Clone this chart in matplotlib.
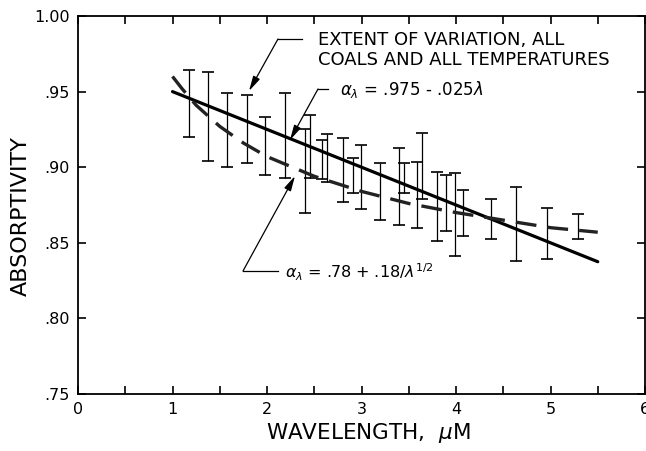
import matplotlib
matplotlib.use("Agg")
import matplotlib.pyplot as plt
import numpy as np

plt.rcParams['font.family'] = ['DejaVu Sans']
plt.rcParams['mathtext.fontset'] = 'dejavusans'
plt.rcParams['lines.scale_dashes'] = False

# Error bar data (extent of variation)
wavelength = [1.175, 1.376, 1.577, 1.785, 1.982, 2.19, 2.40, 2.455, 2.58, 2.635,
              2.80, 2.91, 2.99, 3.20, 3.40, 3.45, 3.59, 3.64, 3.80, 3.89,
              3.99, 4.07, 4.375, 4.63, 4.96, 5.29]
upper = [0.964, 0.963, 0.949, 0.948, 0.933, 0.949, 0.925, 0.9345, 0.918, 0.922,
         0.919, 0.906, 0.9145, 0.9026, 0.913, 0.9026, 0.9037, 0.9228, 0.8966, 0.8948,
         0.8964, 0.885, 0.8788, 0.8867, 0.8732, 0.8688]
lower = [0.920, 0.904, 0.900, 0.903, 0.895, 0.893, 0.870, 0.8927, 0.8925, 0.8904,
         0.877, 0.883, 0.8724, 0.865, 0.862, 0.883, 0.860, 0.8788, 0.8514, 0.858,
         0.8413, 0.8547, 0.8523, 0.8382, 0.8391, 0.8525]

# Solid line alpha = .975 - .025 lambda (read endpoints)
solid_x = [1.0, 5.5]
solid_y = [0.950, 0.8375]

# Dashed curve alpha = .78 + .18/lambda^0.5 (read points)
dash_x = [1.0, 1.1, 1.25, 1.5, 1.75, 2.0, 2.5, 3.0, 3.5, 4.0, 4.5, 5.0, 5.5]
dash_y = [0.960, 0.952, 0.941, 0.927, 0.916, 0.907, 0.894, 0.884, 0.876, 0.870,
          0.865, 0.860, 0.857]

xticks = [0, 1, 2, 3, 4, 5, 6]
yticks = [0.75, 0.80, 0.85, 0.90, 0.95, 1.00]
yticklabels = ['.75', '.80', '.85', '.90', '.95', '1.00']

fig = plt.figure(figsize=(6.46, 4.51), dpi=100)
ax = fig.add_axes([78/646, 57/451, 567/646, 378/451])
ax.set_xlim(0, 6)
ax.set_ylim(0.75, 1.00)

wl = np.array(wavelength)
up = np.array(upper)
lo = np.array(lower)
mid = (up + lo) / 2
ax.errorbar(wl, mid, yerr=[mid - lo, up - mid], fmt='none', ecolor='black',
            elinewidth=0.9, capsize=4.0, capthick=1.2)

ax.plot(solid_x, solid_y, color='black', lw=2.3, solid_capstyle='round')
ax.plot(dash_x, dash_y, color='#222222', lw=2.4, dashes=(15, 8))

# Spines and ticks
for s in ax.spines.values():
    s.set_linewidth(1.3)
ax.set_xticks(xticks)
ax.set_xticklabels([str(t) for t in xticks])
ax.set_xticks(np.arange(0.5, 6, 1.0), minor=True)
ax.set_yticks(yticks)
ax.set_yticklabels(yticklabels)
ax.tick_params(axis='both', which='both', direction='in', length=6, width=1.2,
               top=True, right=True, labelsize=11.5)
ax.tick_params(axis='x', which='major', pad=6)
ax.tick_params(axis='y', which='major', pad=6)

fig.text(21/646, 1 - 216/451, 'ABSORPTIVITY', rotation=90, ha='center', va='center',
         fontsize=16)
fig.text(368/646, 1 - 439/451, r'WAVELENGTH,  $\mu$M', ha='center', va='baseline',
         fontsize=15.5)

def px2d(px, py):
    return ((px - 78) / 94.5, 1 - (py - 16) / 1512)

arrow_kw = dict(arrowstyle='-|>,head_length=0.9,head_width=0.22', color='black',
                lw=0.9, shrinkA=0, shrinkB=0)

# Annotation 1
a1 = px2d(278, 39); b1 = px2d(302, 39)
ax.plot([a1[0], b1[0]], [a1[1], b1[1]], color='black', lw=0.9)
ax.annotate('', xy=px2d(249, 91), xytext=a1, arrowprops=arrow_kw)
ax.text(*px2d(318, 50), 'EXTENT OF VARIATION, ALL\nCOALS AND ALL TEMPERATURES',
        ha='left', va='center', fontsize=13, linespacing=1.1)

# Annotation 2
a2 = px2d(318, 89); b2 = px2d(328, 89)
ax.plot([a2[0], b2[0]], [a2[1], b2[1]], color='black', lw=0.9)
ax.annotate('', xy=px2d(290, 140), xytext=a2, arrowprops=arrow_kw)
ax.text(*px2d(340, 90), r'$\alpha_\lambda$ = .975 - .025$\lambda$',
        ha='left', va='center', fontsize=12)

# Annotation 3
a3 = px2d(243, 271); b3 = px2d(278, 271)
ax.plot([a3[0], b3[0]], [a3[1], b3[1]], color='black', lw=0.9)
ax.annotate('', xy=px2d(295, 176), xytext=a3, arrowprops=arrow_kw)
ax.text(*px2d(285, 272), r'$\alpha_\lambda$ = .78 + .18/$\lambda^{1/2}$',
        ha='left', va='center', fontsize=11.5)

fig.savefig('out.png', dpi=100)
